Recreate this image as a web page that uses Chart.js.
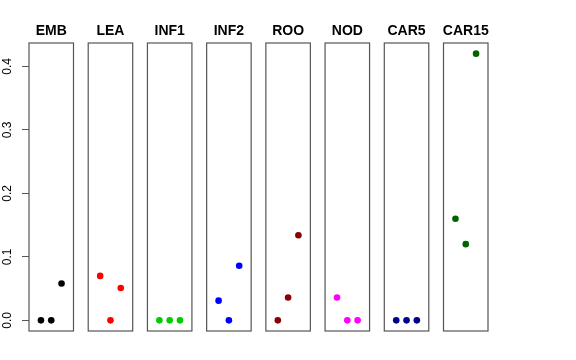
<!DOCTYPE html>
<html>
<head>
<meta charset="utf-8">
<script src="https://cdn.jsdelivr.net/npm/chart.js@4"></script>
<style>
  html, body { margin: 0; padding: 0; background: #fff; }
  #wrap { width: 576px; height: 360px; }
</style>
</head>
<body>
<div id="wrap"><canvas id="c" width="576" height="360"></canvas></div>
<script>
// panel names and the three values in each panel (x = 1, 2, 3)
const panels = ['EMB', 'LEA', 'INF1', 'INF2', 'ROO', 'NOD', 'CAR5', 'CAR15'];
const slots  = [1, 2, 3];
const emb   = [0, 0, 0.058];
const lea   = [0.070, 0, 0.051];
const inf1  = [0, 0, 0];
const inf2  = [0.031, 0, 0.086];
const roo   = [0, 0.036, 0.134];
const nod   = [0.036, 0, 0];
const car5  = [0, 0, 0];
const car15 = [0.160, 0.120, 0.420];
const yTicks = [0, 0.1, 0.2, 0.3, 0.4];

const values = [emb, lea, inf1, inf2, roo, nod, car5, car15];
const colors = ['#000000', '#FF0000', '#00CD00', '#0000FF', '#8B0000', '#FF00FF', '#00008B', '#006400'];

const PITCH = 5.75;           // x units between panel starts
const XLO = -0.16, XHI = 4.16; // R style 4% padding around 0..4
const YLO = -0.0168, YHI = 0.4368;

const datasets = panels.map((p, i) => ({
  label: p,
  data: values[i].map((v, j) => ({ x: i * PITCH + slots[j], y: v })),
  backgroundColor: colors[i],
  borderWidth: 0,
  pointRadius: 3.3,
  pointHoverRadius: 3.3
}));

// boxes + panel titles
const panelPlugin = {
  id: 'panels',
  afterDatasetsDraw(chart) {
    const { ctx, chartArea: a, scales: { x } } = chart;
    ctx.save();
    ctx.strokeStyle = '#555';
    ctx.lineWidth = 1.2;
    ctx.fillStyle = '#000';
    ctx.font = 'bold 14px "Liberation Sans", Arial, sans-serif';
    ctx.textAlign = 'center';
    ctx.textBaseline = 'alphabetic';
    panels.forEach((p, i) => {
      const l = x.getPixelForValue(i * PITCH + XLO);
      const r = x.getPixelForValue(i * PITCH + XHI);
      ctx.strokeRect(l, a.top, r - l, a.bottom - a.top);
      ctx.fillText(p, (l + r) / 2, a.top - 8.5);
    });
    ctx.restore();
  }
};

new Chart(document.getElementById('c'), {
  type: 'scatter',
  data: { datasets },
  options: {
    responsive: false,
    animation: false,
    events: [],
    layout: { padding: { top: 43, bottom: 29, left: 0, right: 88 } },
    plugins: { legend: { display: false }, tooltip: { enabled: false } },
    scales: {
      x: {
        type: 'linear',
        display: false,
        min: XLO,
        max: (panels.length - 1) * PITCH + XHI
      },
      y: {
        type: 'linear',
        min: YLO,
        max: YHI,
        afterFit: s => { s.width = 29; },
        afterBuildTicks: s => { s.ticks = yTicks.map(v => ({ value: v })); },
        border: { display: false },
        grid: { drawOnChartArea: false, drawTicks: true, tickLength: 7, color: '#555', lineWidth: 1 },
        ticks: {
          color: '#000',
          font: { size: 12, family: '"Liberation Sans", Arial, sans-serif' },
          minRotation: 90,
          maxRotation: 90,
          crossAlign: 'center',
          padding: 6,
          callback: v => v.toFixed(1)
        }
      }
    }
  },
  plugins: [panelPlugin]
});
</script>
</body>
</html>
